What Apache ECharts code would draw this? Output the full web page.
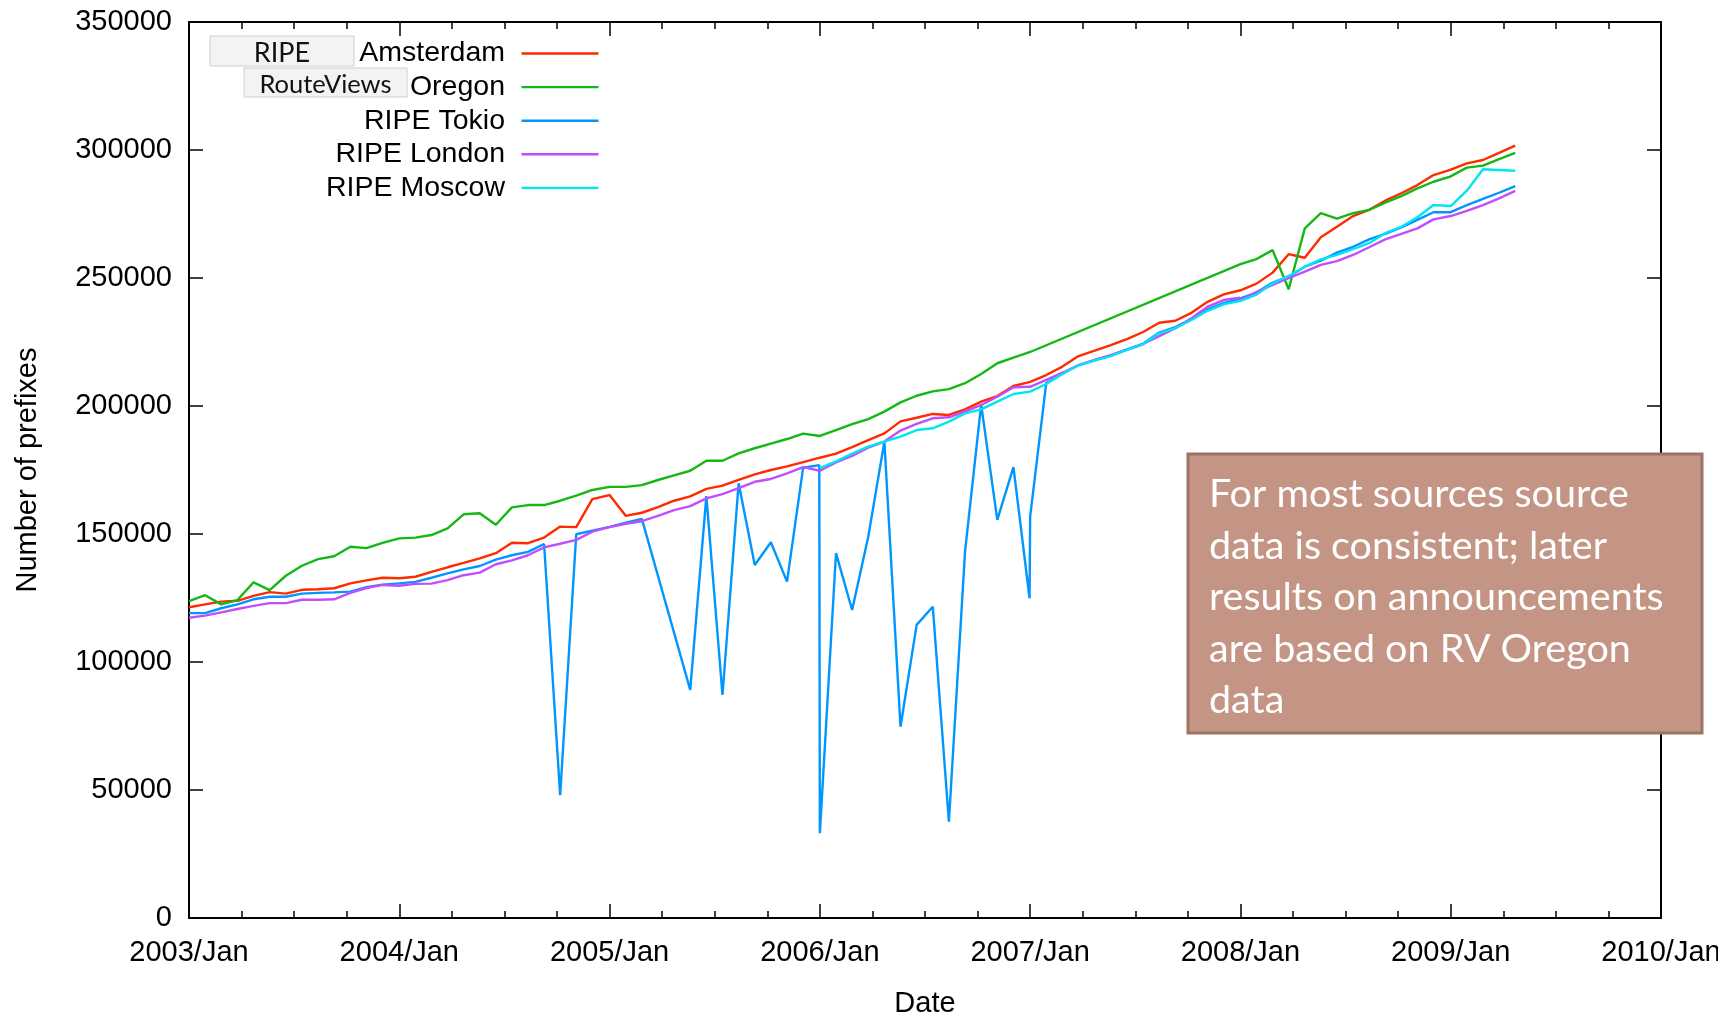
<!DOCTYPE html>
<html>
<head>
<meta charset="utf-8">
<title>Number of prefixes per route collector</title>
<script src="https://cdn.jsdelivr.net/npm/echarts@6/dist/echarts.min.js"></script>
<style>
  html, body { margin: 0; padding: 0; background: #ffffff; }
  #chart { width: 1718px; height: 1018px; }
</style>
</head>
<body>
<div id="chart"></div>
<script>
// Snapshot dates: every 28 days, restarting on 1 January of each year.
const sampleDates = [
  '2003-01-01','2003-01-29','2003-02-26','2003-03-26','2003-04-23','2003-05-21','2003-06-18','2003-07-16','2003-08-13','2003-09-10','2003-10-08','2003-11-05','2003-12-03',
  '2004-01-01','2004-01-29','2004-02-26','2004-03-25','2004-04-22','2004-05-20','2004-06-17','2004-07-15','2004-08-12','2004-09-09','2004-10-07','2004-11-04','2004-12-02',
  '2005-01-01','2005-01-29','2005-02-26','2005-03-26','2005-04-23','2005-05-21','2005-06-18','2005-07-16','2005-08-13','2005-09-10','2005-10-08','2005-11-05','2005-12-03',
  '2006-01-01','2006-01-29','2006-02-26','2006-03-26','2006-04-23','2006-05-21','2006-06-18','2006-07-16','2006-08-13','2006-09-10','2006-10-08','2006-11-05','2006-12-03',
  '2007-01-01','2007-01-29','2007-02-26','2007-03-26','2007-04-23','2007-05-21','2007-06-18','2007-07-16','2007-08-13','2007-09-10','2007-10-08','2007-11-05','2007-12-03',
  '2008-01-01','2008-01-29','2008-02-26','2008-03-25','2008-04-22','2008-05-20','2008-06-17','2008-07-15','2008-08-12','2008-09-09','2008-10-07','2008-11-04','2008-12-02',
  '2009-01-01','2009-01-29','2009-02-26','2009-03-26','2009-04-23'
];

// Extra year-end snapshots (31 December) present for some collectors only.
const yearEndDates = ['2005-12-31', '2006-12-31', '2007-12-31', '2008-12-31'];

// Number of prefixes seen by each collector at every snapshot (null = no dump).
const amsterdam = [
  121400,122500,123600,123900,125800,127300,126700,128200,128400,128800,130700,131900,132900,
  132700,133300,135200,137000,138700,140500,142500,146600,146400,148600,152900,152700,163600,
  165200,157100,158300,160500,163000,164700,167600,168900,171100,173300,175000,176400,178100,
  179800,181400,183900,186700,189300,194000,195400,196900,196500,198700,201700,203900,207800,
  209400,212100,215400,219500,221600,223800,226100,228900,232500,233300,236400,240700,243600,
  245200,247800,252100,259300,257900,265900,270000,274200,276600,280200,283100,286300,290200,
  291600,294800,296100,298900,301700
];
const oregon = [
  123800,126100,122500,124200,131100,128100,133700,137600,140200,141300,145000,144500,146500,
  148300,148600,149600,152200,157700,158100,153600,160400,161300,161300,163000,165000,167200,
  168400,168400,169100,171100,172900,174700,178600,178600,181500,183500,185300,187100,189200,
  188300,190600,192900,194900,197800,201400,204000,205700,206600,208900,212500,216700,218900,
  221100,null,null,null,null,null,null,null,null,null,null,null,null,
  255400,257400,260900,245600,269400,275300,273200,275300,276600,279400,282000,285000,287600,
  289000,293100,293900,296400,298900
];
const tokio = [
  119100,119100,121000,122500,124500,125500,125500,126700,127000,127200,127500,129200,130200,
  130700,131300,132900,134600,136200,137500,140000,141700,143000,146100,48000,149900,151300,
  152800,154400,155900,null,null,89100,164800,87100,169800,137900,146800,131400,175900,
  33100,142500,120300,148900,186100,74700,114500,121600,37600,143100,200500,155500,176100,
  156800,209000,212600,216000,217900,219800,222100,224300,228700,230800,234000,237700,240200,
  242000,244300,248200,250500,254400,256800,259900,262200,265100,267200,269800,272700,275700,
  275700,278500,280900,283300,285900
];
const london = [
  117300,118100,119400,120700,121900,123000,123000,124300,124300,124500,127000,128900,130100,
  129800,130500,130600,132000,133900,134900,138200,139700,141700,144800,146200,147700,150900,
  152700,154000,155000,157100,159300,160900,163900,165600,167900,170400,171500,173700,176100,
  174700,178000,180500,183700,186100,190400,193000,195200,195600,197800,200400,203600,207300,
  207500,210200,213000,215900,218000,219900,221900,224200,227300,230400,234300,238800,241400,
  241300,244500,247300,249900,252500,255100,256600,259000,262000,265100,267200,269400,272900,
  274200,276200,278500,281100,284000
];
const moscow = [
  null,null,null,null,null,null,null,null,null,null,null,null,null,
  null,null,null,null,null,null,null,null,null,null,null,null,null,
  null,null,null,null,null,null,null,null,null,null,null,null,null,
  175700,178400,181400,184100,186100,188000,190600,191300,193900,197100,198700,201700,204700,
  205600,208600,212500,215900,217700,219500,221900,224100,228400,230400,233600,237200,239700,
  241100,243500,247900,250800,254400,257300,259000,261300,263600,267500,270000,273700,278500,
  278100,284100,292500,292200,291900
];

// Year-end values, aligned with yearEndDates.
const amsterdamYearEnd = [null, null, null, 292200];
const oregonYearEnd    = [null, null, null, 289600];
const tokioYearEnd     = [176900, 124900, null, null];
const londonYearEnd    = [null, null, 242300, null];
const moscowYearEnd    = [null, null, null, null];

const seriesNames  = ['RIPE Amsterdam', 'RouteViews Oregon', 'RIPE Tokio', 'RIPE London', 'RIPE Moscow'];
const legendText   = ['Amsterdam', 'Oregon', 'RIPE Tokio', 'RIPE London', 'RIPE Moscow'];
const legendTags   = ['RIPE', 'RouteViews', null, null, null];
const seriesValues = [amsterdam, oregon, tokio, london, moscow];
const seriesYearEnd = [amsterdamYearEnd, oregonYearEnd, tokioYearEnd, londonYearEnd, moscowYearEnd];
const seriesColors = ['#ff2a00', '#14b814', '#0096ff', '#c24dff', '#00e6f0'];

const yearTicks = { min: 2003, max: 2010, step: 1 };
const valueTicks = { min: 0, max: 350000, step: 50000 };

const noteLines = [
  'For most sources source',
  'data is consistent; later',
  'results on announcements',
  'are based on RV Oregon',
  'data'
];

const AXIS_FONT = '"Liberation Sans", Arial, Helvetica, sans-serif';
const NOTE_FONT = 'Lato, "Open Sans", sans-serif';
const LINE_WIDTH = 2.4;

// Date string -> fractional year, so the value axis can place every snapshot.
function toYear(s) {
  const [y, m, d] = s.split('-').map(Number);
  const t = Date.UTC(y, m - 1, d);
  const t0 = Date.UTC(y, 0, 1);
  const t1 = Date.UTC(y + 1, 0, 1);
  return y + (t - t0) / (t1 - t0);
}

function seriesPoints(values, yearEnd) {
  const pts = [];
  sampleDates.forEach((d, i) => { if (values[i] != null) pts.push([toYear(d), values[i]]); });
  yearEndDates.forEach((d, i) => { if (yearEnd[i] != null) pts.push([toYear(d), yearEnd[i]]); });
  return pts.sort((a, b) => a[0] - b[0]);
}

const chart = echarts.init(document.getElementById('chart'), null, { renderer: 'canvas' });

const frameLine = { show: true, onZero: false, lineStyle: { color: '#000', width: 2 } };
const majorTick = { show: true, inside: true, length: 14, lineStyle: { color: '#000', width: 1.5 } };
const minorTick = { show: true, splitNumber: 4, length: 7, lineStyle: { color: '#000', width: 1.5 } };

function xAxisDef(position, withLabels) {
  return {
    type: 'value', position: position,
    min: yearTicks.min, max: yearTicks.max, interval: yearTicks.step,
    axisLine: frameLine, axisTick: majorTick, minorTick: minorTick,
    splitLine: { show: false }, minorSplitLine: { show: false },
    axisLabel: withLabels ? {
      show: true, margin: 20, color: '#000', fontSize: 29, fontFamily: AXIS_FONT,
      showMinLabel: true, showMaxLabel: true, hideOverlap: false,
      formatter: v => v + '/Jan'
    } : { show: false },
    name: withLabels ? 'Date' : '',
    nameLocation: 'middle', nameGap: 71,
    nameTextStyle: { color: '#000', fontSize: 29, fontFamily: AXIS_FONT }
  };
}

function yAxisDef(position, withLabels) {
  return {
    type: 'value', position: position,
    min: valueTicks.min, max: valueTicks.max, interval: valueTicks.step,
    axisLine: frameLine, axisTick: majorTick,
    splitLine: { show: false },
    axisLabel: withLabels ? {
      show: true, margin: 17, color: '#000', fontSize: 29, fontFamily: AXIS_FONT,
      formatter: v => String(v)
    } : { show: false },
    name: withLabels ? 'Number of prefixes' : '',
    nameLocation: 'middle', nameGap: 147,
    nameTextStyle: { color: '#000', fontSize: 29, fontFamily: AXIS_FONT }
  };
}

// Key in the upper-left corner: label, then a short line sample.
const legendGraphics = [];
legendText.forEach((label, i) => {
  const cy = 53.5 + i * 33.6;
  legendGraphics.push({
    type: 'text', x: 505, y: cy, z: 100,
    style: { text: label, font: '28.5px ' + AXIS_FONT, fill: '#000',
             align: 'right', verticalAlign: 'middle', textAlign: 'right', textVerticalAlign: 'middle' }
  });
  legendGraphics.push({
    type: 'line', z: 100,
    shape: { x1: 521.5, y1: cy, x2: 598.5, y2: cy },
    style: { stroke: seriesColors[i], lineWidth: LINE_WIDTH }
  });
});
// Source tags drawn in front of the first two labels.
const tagBoxes = [
  { x: 210, y: 36, w: 144, h: 30, size: 27 },
  { x: 244, y: 68, w: 163, h: 29, size: 25.5 }
];
legendTags.forEach((tag, i) => {
  if (!tag) return;
  const b = tagBoxes[i];
  legendGraphics.push({
    type: 'rect', z: 101,
    shape: { x: b.x, y: b.y, width: b.w, height: b.h },
    style: { fill: '#f3f3f3', stroke: '#cfcfcf', lineWidth: 1 }
  });
  legendGraphics.push({
    type: 'text', x: b.x + b.w / 2, y: b.y + b.h / 2 + 2, z: 102,
    style: { text: tag, font: b.size + 'px ' + NOTE_FONT, fill: '#111',
             align: 'center', verticalAlign: 'middle', textAlign: 'center', textVerticalAlign: 'middle' }
  });
});

const noteGraphics = [
  {
    type: 'rect', z: 110,
    shape: { x: 1188, y: 454, width: 514, height: 279 },
    style: { fill: '#c49584', stroke: '#9d7364', lineWidth: 3 }
  },
  {
    type: 'text', x: 1209, y: 469, z: 111,
    style: { text: noteLines.join('\n'), font: '39.5px ' + NOTE_FONT, fill: '#ffffff',
             lineHeight: 51.5, align: 'left', verticalAlign: 'top', textAlign: 'left', textVerticalAlign: 'top' }
  }
];

const option = {
  animation: false,
  backgroundColor: '#ffffff',
  grid: { left: 189, right: 57, top: 22, bottom: 100, containLabel: false, outerBoundsMode: 'none' },
  xAxis: [xAxisDef('bottom', true), xAxisDef('top', false)],
  yAxis: [yAxisDef('left', true), yAxisDef('right', false)],
  series: seriesNames.map((name, i) => ({
    type: 'line',
    name: name,
    xAxisIndex: 0,
    yAxisIndex: 0,
    data: seriesPoints(seriesValues[i], seriesYearEnd[i]),
    symbol: 'none',
    showSymbol: false,
    silent: true,
    z: 2 + i,
    lineStyle: { color: seriesColors[i], width: LINE_WIDTH },
    itemStyle: { color: seriesColors[i] },
    emphasis: { disabled: true }
  })),
  graphic: { elements: legendGraphics.concat(noteGraphics) }
};

chart.setOption(option);
</script>
</body>
</html>
